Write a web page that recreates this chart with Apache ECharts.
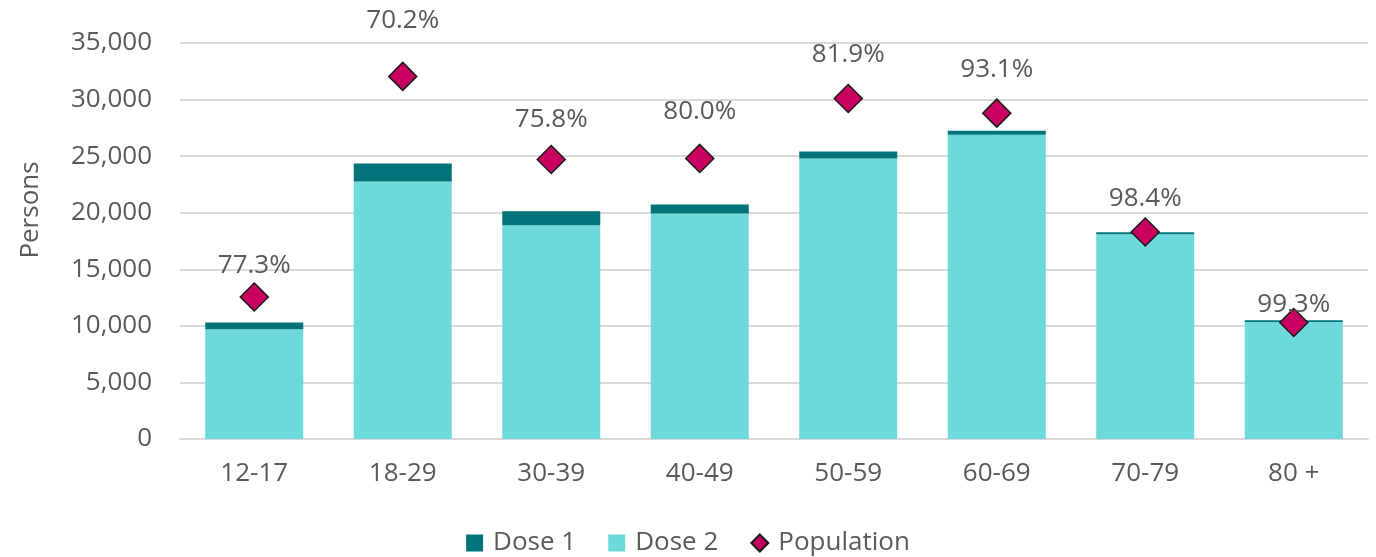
<!DOCTYPE html>
<html>
<head>
<meta charset="utf-8">
<script src="https://cdn.jsdelivr.net/npm/echarts@6/dist/echarts.min.js"></script>
<style>
  html, body { margin: 0; padding: 0; background: #fff; }
  #chart { width: 1376px; height: 557px; }
</style>
</head>
<body>
<div id="chart"></div>
<script>
var ageGroups = ['12-17', '18-29', '30-39', '40-49', '50-59', '60-69', '70-79', '80 +'];
var dose1 = [600, 1590, 1240, 790, 600, 350, 180, 150];
var dose2 = [9700, 22760, 18900, 19940, 24800, 26900, 18100, 10350];
var population = [12550, 32050, 24700, 24800, 30100, 28800, 18300, 10300];
var pctLabels = ['77.3%', '70.2%', '75.8%', '80.0%', '81.9%', '93.1%', '98.4%', '99.3%'];
// label shift above each diamond, px
var labelShift = [-31, -56, -40, -47, -44, -44, -33, -18];

var textColor = '#595959';
var font = 'Open Sans';
var fs = 26;

var chart = echarts.init(document.getElementById('chart'));

chart.setOption({
  animation: false,
  textStyle: { fontFamily: font, color: textColor },
  grid: { left: 180, right: 8, top: 43, bottom: 118, outerBoundsMode: 'none' },
  graphic: [{
    type: 'text',
    x: 18,
    y: 210,
    rotation: Math.PI / 2,
    style: {
      text: 'Persons',
      font: fs + 'px "' + font + '"',
      fill: textColor,
      align: 'center',
      verticalAlign: 'top'
    }
  }],
  legend: {
    bottom: -4,
    itemGap: 32,
    itemWidth: 17,
    itemHeight: 17,
    textStyle: { fontFamily: font, fontSize: fs, color: textColor, padding: [0, 0, 0, 5] },
    data: [
      { name: 'Dose 1', icon: 'rect' },
      { name: 'Dose 2', icon: 'rect' },
      { name: 'Population', icon: 'diamond' }
    ]
  },
  xAxis: {
    type: 'category',
    data: ageGroups,
    axisTick: { show: false },
    axisLine: { lineStyle: { color: '#d9d9d9', width: 2 } },
    axisLabel: { fontFamily: font, fontSize: fs, color: textColor, margin: 22 }
  },
  yAxis: {
    type: 'value',
    min: 0,
    max: 35000,
    interval: 5000,
    axisLine: { show: false },
    axisTick: { show: false },
    splitLine: { lineStyle: { color: '#d9d9d9', width: 2 } },
    axisLabel: {
      fontFamily: font, fontSize: fs, color: textColor, margin: 28,
      formatter: function (v) { return v.toLocaleString('en-US'); }
    }
  },
  series: [
    {
      name: 'Dose 2',
      type: 'bar',
      stack: 'doses',
      barWidth: 98,
      itemStyle: { color: '#6dd9db' },
      data: dose2
    },
    {
      name: 'Dose 1',
      type: 'bar',
      stack: 'doses',
      barWidth: 98,
      itemStyle: { color: '#00747a' },
      data: dose1
    },
    {
      name: 'Population',
      type: 'scatter',
      symbol: 'diamond',
      symbolSize: [28, 28],
      itemStyle: { color: '#c8005f', borderColor: '#1a1a1a', borderWidth: 1.5, opacity: 1 },
      z: 5,
      data: population.map(function (v, i) {
        return {
          value: v,
          label: {
            show: true,
            position: 'inside',
            offset: [0, labelShift[i]],
            formatter: pctLabels[i],
            fontFamily: font,
            fontSize: fs,
            color: textColor
          }
        };
      })
    }
  ]
});
</script>
</body>
</html>
